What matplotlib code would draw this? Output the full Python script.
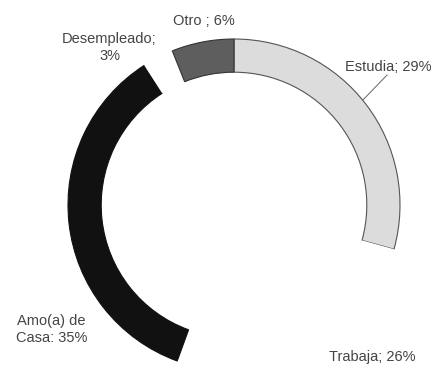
import matplotlib.pyplot as plt

plt.rcParams['font.family'] = ['Liberation Sans', 'DejaVu Sans']

categories = ['Estudia', 'Trabaja', 'Amo(a) de Casa', 'Desempleado', 'Otro']
values = [29, 26, 35, 3, 6]
colors = ['#dcdcdc', 'white', '#111111', 'white', '#5e5e5e']
edges = ['#555555', 'none', '#111111', 'none', '#333333']

fig = plt.figure(figsize=(4.32, 3.70), dpi=100)
# square axes box so the ring stays circular
ax = fig.add_axes([68 / 432, -1 / 370, 332 / 432, 332 / 370])

wedges, _ = ax.pie(values, startangle=90, counterclock=False, radius=1,
                   colors=colors, wedgeprops=dict(width=0.2, linewidth=0.8))
for w, ec in zip(wedges, edges):
    w.set_edgecolor(ec)
ax.set_xlim(-1, 1)
ax.set_ylim(-1, 1)
ax.axis('off')

txt = dict(fontsize=10.5, color='#444444', ha='center', va='center', clip_on=False)
ax.text(0.93, 0.83, f'{categories[0]}; {values[0]}%', **txt)
ax.plot([0.922, 0.777], [0.783, 0.633], color='#666666', lw=0.7, clip_on=False)
ax.text(0.83, -0.915, f'{categories[1]}; {values[1]}%', **txt)
ax.text(-1.10, -0.75, f'Amo(a) de\nCasa: {values[2]}%', linespacing=1.3, **txt)
ax.text(-0.75, 0.95, f'{categories[3]};\n{values[3]}%', linespacing=1.3, **txt)
ax.text(-0.18, 1.11, f'{categories[4]} ; {values[4]}%', **txt)

fig.savefig('out.png', dpi=100)
